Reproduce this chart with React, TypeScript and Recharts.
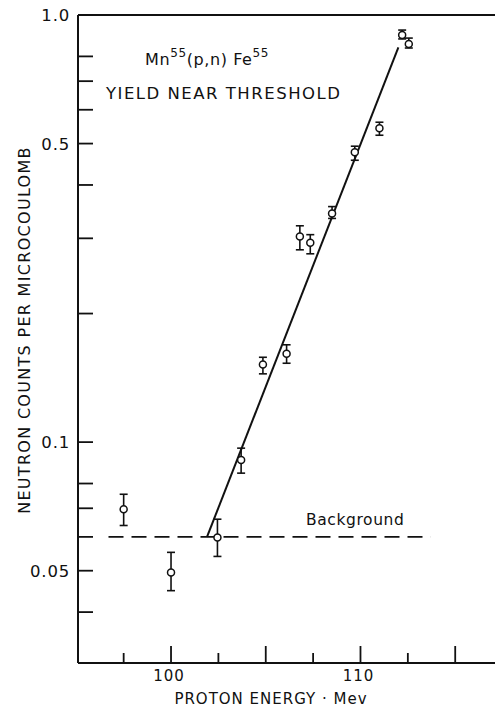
import React from 'react';
import { ScatterChart, Scatter, XAxis, YAxis, ErrorBar, ReferenceLine } from 'recharts';

// proton energy (Mev) and yield (neutron counts per microcoulomb)
const energy = [97.5, 100.0, 102.45, 103.7, 104.85, 106.1, 106.8, 107.35, 108.5, 109.7, 111.0, 112.2, 112.55];
const counts = [0.0696, 0.0495, 0.0598, 0.0908, 0.152, 0.161, 0.303, 0.293, 0.343, 0.477, 0.543, 0.898, 0.855];
const countsLow = [0.0638, 0.0449, 0.054, 0.0846, 0.1445, 0.153, 0.282, 0.276, 0.334, 0.457, 0.523, 0.879, 0.837];
const countsHigh = [0.0755, 0.0552, 0.066, 0.0968, 0.158, 0.169, 0.321, 0.306, 0.356, 0.493, 0.561, 0.922, 0.883];

// fitted line and background level
const fitEnergy = [101.9, 112.0];
const fitCounts = [0.06, 0.84];
const backgroundEnergy = [96.7, 113.7];
const backgroundLevel = 0.06;

const xTicks = [97.5, 100, 102.5, 105, 107.5, 110, 112.5, 115];
const xLabels = [100, 110];
const yTicks = [0.04, 0.05, 0.06, 0.07, 0.08, 0.09, 0.1, 0.2, 0.3, 0.4, 0.5, 0.6, 0.7, 0.8, 0.9, 1.0];
const yLabels = [0.05, 0.1, 0.5, 1.0];

const FONT = '"DejaVu Sans", sans-serif';
const INK = '#111';

const points = energy.map((x, i) => ({
  x,
  y: counts[i],
  err: [counts[i] - countsLow[i], countsHigh[i] - counts[i]],
}));

const XTick = ({ x, y, payload }: any) => {
  const v = payload.value;
  const major = v % 5 === 0;
  return (
    <g>
      <line x1={x} x2={x} y1={y} y2={y - (major ? 17 : 10)} stroke={INK} strokeWidth={1.8} />
      {xLabels.includes(v) && (
        <text x={x - 2} y={y + 18} textAnchor="middle" fontSize={15} letterSpacing={1} fontFamily={FONT} fill={INK}>
          {v}
        </text>
      )}
    </g>
  );
};

const YTick = ({ x, y, payload }: any) => {
  const v = payload.value;
  return (
    <g>
      <line x1={x} x2={x + 15} y1={y} y2={y} stroke={INK} strokeWidth={1.8} />
      {yLabels.includes(v) && (
        <text x={x - 8} y={y + 6} textAnchor="end" fontSize={16.5} letterSpacing={0.8} fontFamily={FONT} fill={INK}>
          {v === 1 ? '1.0' : String(v)}
        </text>
      )}
    </g>
  );
};

const OpenCircle = ({ cx, cy }: any) => (
  <circle cx={cx} cy={cy} r={3.5} fill="#fff" stroke={INK} strokeWidth={1.5} />
);

export default function App() {
  return (
    <div style={{ position: 'absolute', left: 0, top: 0, width: 495, height: 707, background: '#fff' }}>
      <ScatterChart width={495} height={707} margin={{ top: 15, right: 0, bottom: 0, left: 0 }}>
        <XAxis
          type="number"
          dataKey="x"
          domain={[95.09, 117.1]}
          ticks={xTicks}
          allowDataOverflow
          height={44}
          tickSize={0}
          tickMargin={0}
          tick={<XTick />}
          axisLine={{ stroke: INK, strokeWidth: 2 }}
        />
        <YAxis
          type="number"
          dataKey="y"
          scale="log"
          domain={[0.0304, 1.0]}
          ticks={yTicks}
          allowDataOverflow
          width={78}
          tickSize={0}
          tickMargin={0}
          tick={<YTick />}
          axisLine={{ stroke: INK, strokeWidth: 2 }}
        />
        <ReferenceLine y={1.0} stroke={INK} strokeWidth={2} />
        <ReferenceLine
          segment={[
            { x: backgroundEnergy[0], y: backgroundLevel },
            { x: backgroundEnergy[1], y: backgroundLevel },
          ]}
          stroke={INK}
          strokeWidth={1.8}
          strokeDasharray="15 8"
        />
        <ReferenceLine
          segment={[
            { x: fitEnergy[0], y: fitCounts[0] },
            { x: fitEnergy[1], y: fitCounts[1] },
          ]}
          stroke={INK}
          strokeWidth={2}
        />
        <Scatter data={points} shape={<OpenCircle />} isAnimationActive={false}>
          <ErrorBar dataKey="err" direction="y" width={4} stroke={INK} strokeWidth={1.6} />
        </Scatter>
      </ScatterChart>
      <svg
        width={495}
        height={707}
        style={{ position: 'absolute', left: 0, top: 0, pointerEvents: 'none' }}
        fontFamily={FONT}
        fill={INK}
      >
        <text x={145} y={65} fontSize={16} letterSpacing={0.6}>
          Mn<tspan dy={-8} fontSize={12}>55</tspan>
          <tspan dy={8}>(p,n) Fe</tspan>
          <tspan dy={-8} fontSize={12}>55</tspan>
        </text>
        <text x={106} y={99} fontSize={16.5} letterSpacing={1.5}>YIELD NEAR THRESHOLD</text>
        <text x={306} y={525} fontSize={15.5} letterSpacing={0.6}>Background</text>
        <text x={271} y={704} fontSize={15} letterSpacing={1} textAnchor="middle">PROTON ENERGY · Mev</text>
        <text
          x={30}
          y={330}
          fontSize={16}
          letterSpacing={1.3}
          textAnchor="middle"
          transform="rotate(-90 30 330)"
        >
          NEUTRON COUNTS PER MICROCOULOMB
        </text>
      </svg>
    </div>
  );
}
